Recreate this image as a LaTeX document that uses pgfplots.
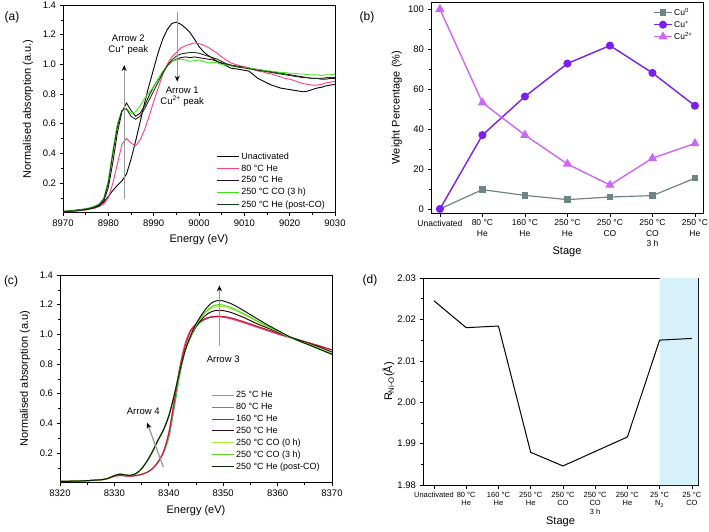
\documentclass[border=0pt]{standalone}
\usepackage{fontspec}
\setmainfont{Liberation Sans}
\usepackage{pgfplots}
\usepackage{pgfplotstable}
\pgfplotsset{compat=1.18}
\usetikzlibrary{arrows.meta}

\definecolor{cpink}{HTML}{FF3D7F}
\definecolor{cbrown}{HTML}{2E0B10}
\definecolor{cgreen}{HTML}{3FE81A}
\definecolor{cdkgreen}{HTML}{1C3A1C}
\definecolor{cgreenA}{HTML}{3CC86E}
\definecolor{cred}{HTML}{C8143C}
\definecolor{cltgreen}{HTML}{A6F03C}
\definecolor{cgreenB}{HTML}{55D81E}
\definecolor{cpost}{HTML}{0A1F0A}
\definecolor{cgray}{HTML}{6F8585}
\definecolor{cviolet}{HTML}{7A1FF0}
\definecolor{corchid}{HTML}{CC66F5}
\definecolor{cshade}{HTML}{D6F1F9}
\definecolor{carrow}{HTML}{9A9A9A}

\pgfplotstableread{
E un h80 h250 co3 post
8970 0.010 0.005 0.006 0.008 0.007
8971 0.012 0.008 0.008 0.010 0.009
8972 0.015 0.010 0.010 0.012 0.011
8973 0.018 0.013 0.012 0.015 0.014
8974 0.022 0.016 0.016 0.020 0.018
8975 0.026 0.018 0.020 0.028 0.024
8976 0.030 0.025 0.026 0.035 0.030
8977 0.038 0.030 0.034 0.045 0.040
8978 0.050 0.042 0.045 0.060 0.055
8979 0.072 0.060 0.080 0.100 0.090
8980 0.110 0.100 0.170 0.220 0.200
8981 0.150 0.200 0.340 0.420 0.400
8982 0.185 0.330 0.540 0.600 0.580
8983 0.215 0.460 0.680 0.690 0.690
8984 0.260 0.500 0.740 0.700 0.700
8985 0.360 0.470 0.690 0.670 0.650
8986 0.480 0.450 0.650 0.680 0.630
8987 0.610 0.490 0.670 0.720 0.650
8988 0.740 0.560 0.720 0.770 0.700
8989 0.860 0.650 0.790 0.810 0.760
8990 0.970 0.750 0.850 0.850 0.820
8991 1.080 0.840 0.900 0.900 0.880
8992 1.170 0.930 0.950 0.950 0.940
8993 1.235 1.000 0.990 0.990 0.990
8994 1.275 1.050 1.020 1.020 1.030
8995 1.285 1.080 1.035 1.030 1.055
8996 1.270 1.110 1.045 1.035 1.070
8997 1.245 1.125 1.050 1.030 1.075
8998 1.215 1.135 1.045 1.020 1.080
8999 1.170 1.145 1.050 1.025 1.080
9000 1.120 1.140 1.045 1.030 1.075
9001 1.085 1.130 1.040 1.020 1.065
9002 1.060 1.115 1.035 1.010 1.055
9003 1.040 1.095 1.030 1.015 1.045
9004 1.020 1.075 1.020 1.010 1.035
9005 1.005 1.050 1.010 1.000 1.020
9006 0.990 1.030 1.000 0.995 1.005
9007 0.975 1.010 0.995 0.990 0.995
9008 0.970 1.000 0.990 0.985 0.985
9009 0.965 0.990 0.985 0.980 0.980
9010 0.960 0.985 0.980 0.980 0.975
9011 0.955 0.975 0.975 0.975 0.970
9012 0.930 0.965 0.970 0.970 0.965
9013 0.905 0.955 0.965 0.965 0.960
9014 0.890 0.950 0.960 0.960 0.955
9015 0.875 0.940 0.955 0.955 0.950
9016 0.860 0.935 0.950 0.955 0.945
9017 0.850 0.925 0.945 0.950 0.940
9018 0.840 0.915 0.940 0.945 0.935
9019 0.835 0.905 0.935 0.945 0.930
9020 0.830 0.900 0.930 0.940 0.925
9021 0.825 0.890 0.925 0.940 0.920
9022 0.820 0.880 0.920 0.935 0.915
9023 0.815 0.870 0.915 0.935 0.910
9024 0.820 0.865 0.910 0.930 0.910
9025 0.830 0.860 0.905 0.930 0.905
9026 0.840 0.860 0.905 0.930 0.905
9027 0.845 0.865 0.900 0.925 0.905
9028 0.855 0.875 0.900 0.930 0.910
9029 0.860 0.880 0.905 0.930 0.910
9030 0.865 0.885 0.905 0.935 0.910
}\tabA

\pgfplotstableread{
E he25 he80 he160 he250 co0 co3 post
8320 0.008 0.008 0.008 0.008 0.008 0.008 0.008
8322 0.010 0.010 0.010 0.010 0.010 0.010 0.010
8324 0.012 0.012 0.012 0.012 0.012 0.012 0.012
8326 0.016 0.016 0.016 0.016 0.016 0.016 0.016
8328 0.022 0.022 0.022 0.022 0.022 0.022 0.022
8329 0.030 0.030 0.030 0.032 0.032 0.032 0.032
8330 0.044 0.043 0.044 0.048 0.048 0.048 0.048
8331 0.050 0.048 0.050 0.058 0.058 0.058 0.058
8332 0.047 0.045 0.047 0.052 0.052 0.052 0.052
8333 0.045 0.044 0.045 0.050 0.050 0.050 0.050
8334 0.048 0.048 0.048 0.062 0.062 0.062 0.062
8335 0.056 0.056 0.056 0.095 0.095 0.095 0.095
8336 0.070 0.070 0.070 0.145 0.145 0.145 0.145
8337 0.095 0.095 0.095 0.210 0.210 0.210 0.210
8338 0.135 0.140 0.138 0.285 0.285 0.285 0.285
8339 0.200 0.210 0.205 0.355 0.355 0.355 0.355
8340 0.300 0.340 0.330 0.450 0.450 0.450 0.450
8341 0.500 0.560 0.540 0.590 0.590 0.590 0.590
8342 0.720 0.780 0.760 0.750 0.750 0.750 0.750
8343 0.890 0.940 0.920 0.890 0.890 0.890 0.890
8344 0.990 1.030 1.020 0.980 0.985 0.985 0.990
8345 1.050 1.070 1.065 1.050 1.060 1.060 1.070
8346 1.085 1.095 1.090 1.100 1.115 1.120 1.130
8347 1.105 1.110 1.110 1.135 1.155 1.160 1.180
8348 1.118 1.115 1.120 1.155 1.180 1.190 1.215
8349 1.122 1.118 1.122 1.162 1.190 1.200 1.228
8350 1.120 1.115 1.120 1.160 1.188 1.197 1.225
8351 1.114 1.108 1.114 1.152 1.178 1.186 1.213
8352 1.105 1.098 1.105 1.140 1.165 1.172 1.197
8354 1.082 1.075 1.082 1.110 1.130 1.135 1.155
8356 1.057 1.050 1.057 1.075 1.090 1.095 1.110
8358 1.032 1.026 1.032 1.045 1.055 1.058 1.067
8360 1.007 1.002 1.007 1.015 1.020 1.022 1.027
8362 0.983 0.980 0.983 0.985 0.985 0.985 0.988
8364 0.962 0.960 0.962 0.960 0.955 0.953 0.955
8366 0.940 0.940 0.940 0.935 0.930 0.927 0.925
8368 0.918 0.918 0.918 0.910 0.900 0.897 0.895
8370 0.895 0.895 0.895 0.880 0.870 0.866 0.865
}\tabC

\pgfplotstableread{
x cu0 cup cu2
0 0.0 0.0 100.0
1 9.7 37.0 53.2
2 6.8 56.3 37.0
3 4.7 72.8 22.5
4 6.0 81.8 12.0
5 6.7 68.1 25.4
6 15.4 51.7 32.8
}\tabB

\pgfplotstableread{
x r
0 2.0245
1 2.0180
2 2.0184
3 1.9879
4 1.9846
5 1.9881
6 1.9916
7 2.0150
8 2.0154
}\tabD

\pgfplotsset{
  myax/.style={
    scale only axis,
    axis line style={line width=0.7pt},
    tick align=outside, tick pos=left,
    major tick length=3.5pt, minor tick length=2pt,
    every tick/.style={black, line width=0.6pt},
    tick label style={font=\fontsize{9.5}{11}\selectfont},
    label style={font=\fontsize{11}{13}\selectfont},
    /pgf/number format/assume math mode=true,
    scaled ticks=false,
    legend style={draw=none, fill=none, font=\fontsize{9}{10.5}\selectfont},
    legend cell align=left,
  },
  longleg/.style={legend image code/.code={\draw[##1] (0pt,0pt) -- (22pt,0pt);}},
}

\begin{document}
\begin{tikzpicture}
\path[use as bounding box] (0pt,0pt) rectangle (709pt,531pt);

% ---------------- (a)
\begin{axis}[myax, longleg, at={(63pt,318.3pt)}, anchor=south west,
  width=272pt, height=207.7pt,
  xmin=8970, xmax=9030, ymin=0, ymax=1.4,
  xtick={8970,8980,8990,9000,9010,9020,9030},
  minor xtick={8975,8985,8995,9005,9015,9025},
  ytick={0.2,0.4,0.6,0.8,1.0,1.2,1.4},
  minor ytick={0.1,0.3,0.5,0.7,0.9,1.1,1.3},
  xticklabel style={/pgf/number format/.cd, fixed, 1000 sep={}},
  yticklabel style={/pgf/number format/.cd, fixed, fixed zerofill, precision=1},
  xlabel={Energy (eV)}, ylabel={Normalised absorption (a.u.)},
  xlabel style={at={(axis description cs:0.5,-0.131)}, anchor=center},
  ylabel style={at={(axis description cs:-0.129,0.5)}, anchor=center},
  legend style={at={(0.982,0.0)}, anchor=south east},
]
\addplot[black, line width=0.9pt] table[x=E,y=un]{\tabA};
\addlegendentry{Unactivated}
\addplot[cpink, line width=0.9pt] table[x=E,y=h80]{\tabA};
\addlegendentry{80 °C He}
\addplot[cbrown, line width=0.9pt] table[x=E,y=h250]{\tabA};
\addlegendentry{250 °C He}
\addplot[cgreen, line width=0.9pt] table[x=E,y=co3]{\tabA};
\addlegendentry{250 °C CO (3 h)}
\addplot[cdkgreen, line width=0.9pt] table[x=E,y=post]{\tabA};
\addlegendentry{250 °C He (post-CO)}
\draw[carrow, line width=1.3pt, -{Stealth[black, length=6pt, width=5pt]}] (axis cs:8983.5,0.09) -- (axis cs:8983.5,0.995);
\draw[carrow, line width=1.3pt, -{Stealth[black, length=6pt, width=5pt]}] (axis cs:8995.2,1.355) -- (axis cs:8995.2,0.883);
\node[align=center, font=\fontsize{9.5}{11}\selectfont] at (axis cs:8984.4,1.13) {Arrow 2\\Cu\textsuperscript{+} peak};
\node[align=center, font=\fontsize{9.5}{11}\selectfont] at (axis cs:8996.3,0.785) {Arrow 1\\Cu\textsuperscript{2+} peak};
\end{axis}

% ---------------- (b)
\begin{axis}[myax, at={(431pt,318pt)}, anchor=south west,
  width=272pt, height=211pt,
  xmin=-0.21, xmax=6.19, ymin=-2, ymax=103.6,
  xtick={0,1,2,3,4,5,6},
  xticklabels={Unactivated,{80 °C\\He},{160 °C\\He},{250 °C\\He},{250 °C\\CO},{250 °C\\CO\\3 h},{250 °C\\He}},
  xticklabel style={align=center, font=\fontsize{8.5}{10.5}\selectfont},
  ytick={0,20,40,60,80,100}, minor y tick num=1,
  xlabel={Stage}, ylabel={Weight Percentage (\%)},
  xlabel style={at={(axis description cs:0.5,-0.183)}, anchor=center},
  ylabel style={at={(axis description cs:-0.126,0.5)}, anchor=center},
  legend style={at={(0.98,0.99)}, anchor=north east, font=\fontsize{8.5}{10}\selectfont},
]
\addplot[cgray, line width=1.2pt, mark=square*, mark size=2.6pt] table[x=x,y=cu0]{\tabB};
\addlegendentry{Cu\textsuperscript{0}}
\addplot[cviolet, line width=1.4pt, mark=*, mark size=3.3pt] table[x=x,y=cup]{\tabB};
\addlegendentry{Cu\textsuperscript{+}}
\addplot[corchid, line width=1.4pt, mark=triangle*, mark size=4pt] table[x=x,y=cu2]{\tabB};
\addlegendentry{Cu\textsuperscript{2+}}
\end{axis}

% ---------------- (c)
\begin{axis}[myax, longleg, at={(60pt,48.3pt)}, anchor=south west,
  width=272pt, height=207.7pt,
  xmin=8320, xmax=8370, ymin=0, ymax=1.4,
  xtick={8320,8330,8340,8350,8360,8370},
  minor xtick={8325,8335,8345,8355,8365},
  ytick={0.2,0.4,0.6,0.8,1.0,1.2,1.4},
  minor ytick={0.1,0.3,0.5,0.7,0.9,1.1,1.3},
  xticklabel style={/pgf/number format/.cd, fixed, 1000 sep={}},
  yticklabel style={/pgf/number format/.cd, fixed, fixed zerofill, precision=1},
  xlabel={Energy (eV)}, ylabel={Normalised absorption (a.u)},
  xlabel style={at={(axis description cs:0.5,-0.136)}, anchor=center},
  ylabel style={at={(axis description cs:-0.129,0.5)}, anchor=center},
  legend style={at={(0.974,0.037)}, anchor=south east},
]
\addplot[cgreenA, line width=1pt, smooth] table[x=E,y=he25]{\tabC};
\addlegendentry{25 °C He}
\addplot[cpink, line width=1pt, smooth] table[x=E,y=he80]{\tabC};
\addlegendentry{80 °C He}
\addplot[cred, line width=1pt, smooth] table[x=E,y=he160]{\tabC};
\addlegendentry{160 °C He}
\addplot[cbrown, line width=1pt, smooth] table[x=E,y=he250]{\tabC};
\addlegendentry{250 °C He}
\addplot[cltgreen, line width=1pt, smooth] table[x=E,y=co0]{\tabC};
\addlegendentry{250 °C CO (0 h)}
\addplot[cgreenB, line width=1pt, smooth] table[x=E,y=co3]{\tabC};
\addlegendentry{250 °C CO (3 h)}
\addplot[cpost, line width=1pt, smooth] table[x=E,y=post]{\tabC};
\addlegendentry{250 °C He (post-CO)}
\draw[carrow, line width=1.3pt, -{Stealth[black, length=6pt, width=5pt]}] (axis cs:8349.3,0.92) -- (axis cs:8349.3,1.33);
\draw[carrow, line width=1.3pt, -{Stealth[black, length=6pt, width=5pt]}] (axis cs:8339.0,0.106) -- (axis cs:8336.0,0.405);
\node[font=\fontsize{9.5}{11}\selectfont] at (axis cs:8350.0,0.83) {Arrow 3};
\node[font=\fontsize{9.5}{11}\selectfont] at (axis cs:8335.3,0.48) {Arrow 4};
\end{axis}

% ---------------- (d)
\begin{axis}[myax, at={(423pt,46pt)}, anchor=south west,
  width=275pt, height=207pt,
  xmin=-0.34, xmax=8.19, ymin=1.98, ymax=2.03,
  xtick={0,1,2,3,4,5,6,7,8},
  xticklabels={Unactivated,{80 °C\\He},{160 °C\\He},{250 °C\\He},{250 °C\\CO},{250 °C\\CO\\3 h},{250 °C\\He},{25 °C\\N\textsubscript{2}},{25 °C\\CO}},
  xticklabel style={align=center, font=\fontsize{7.5}{8.5}\selectfont},
  ytick={1.98,1.99,2.00,2.01,2.02,2.03}, minor y tick num=1,
  yticklabel style={/pgf/number format/.cd, fixed, fixed zerofill, precision=2},
  xlabel={Stage}, ylabel={R\textsubscript{Ni-O}(Å)},
  xlabel style={at={(axis description cs:0.5,-0.177)}, anchor=center},
  ylabel style={at={(axis description cs:-0.126,0.5)}, anchor=center},
]
\addplot[fill=cshade, draw=none] coordinates {(7,1.98) (8.19,1.98) (8.19,2.03) (7,2.03)} \closedcycle;
\addplot[black, line width=1pt] table[x=x,y=r]{\tabD};
\end{axis}

\node[font=\fontsize{12}{14}\selectfont] at (12pt,514pt) {(a)};
\node[font=\fontsize{12}{14}\selectfont] at (367pt,514pt) {(b)};
\node[font=\fontsize{12}{14}\selectfont] at (11pt,250pt) {(c)};
\node[font=\fontsize{12}{14}\selectfont] at (370pt,251pt) {(d)};
\end{tikzpicture}
\end{document}
